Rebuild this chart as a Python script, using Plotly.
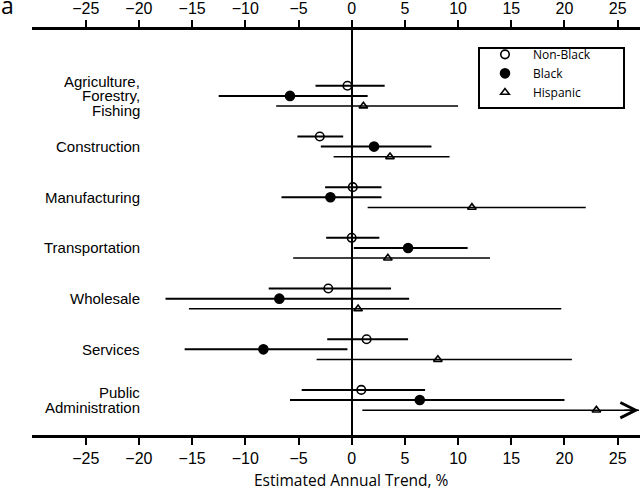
import plotly.graph_objects as go

# industries, top to bottom
categories = ["Agriculture,\nForestry,\nFishing", "Construction", "Manufacturing",
              "Transportation", "Wholesale", "Services", "Public\nAdministration"]

# estimated annual trend (%) with 95% CI
nonblack_est = [-0.4, -3.0, 0.1, 0.0, -2.2, 1.4, 0.9]
nonblack_lo = [-3.4, -5.1, -2.5, -2.4, -7.8, -2.3, -4.7]
nonblack_hi = [3.1, -0.8, 2.8, 2.6, 3.7, 5.3, 6.9]

black_est = [-5.8, 2.1, -2.0, 5.3, -6.8, -8.3, 6.4]
black_lo = [-12.5, -2.9, -6.6, 0.2, -17.5, -15.7, -5.8]
black_hi = [1.5, 7.5, 2.8, 10.9, 5.4, -0.4, 20.0]

hisp_est = [1.1, 3.6, 11.3, 3.4, 0.6, 8.1, 23.0]
hisp_lo = [-7.1, -1.7, 1.5, -5.5, -15.3, -3.3, 1.0]
hisp_hi = [10.0, 9.2, 22.0, 13.0, 19.7, 20.7, 27.0]  # last one runs off the axis

tick_vals = [-25, -20, -15, -10, -5, 0, 5, 10, 15, 20, 25]

ARIAL = "Liberation Sans"
MYRIAD = "Open Sans"

series = [
    ("Non-Black", nonblack_est, nonblack_lo, nonblack_hi, -0.2, "circle-open", 8.5, 2),
    ("Black", black_est, black_lo, black_hi, 0.0, "circle", 9, 2),
    ("Hispanic", hisp_est, hisp_lo, hisp_hi, 0.2, "triangle-up-open", 7.5, 1.5),
]

fig = go.Figure()
for name, est, lo, hi, off, sym, size, lw in series:
    fig.add_trace(go.Scatter(
        x=est,
        y=[i + off for i in range(len(categories))],
        mode="markers",
        name=name,
        marker=dict(symbol=sym, size=size, color="black", line=dict(color="black", width=1.6)),
        error_x=dict(type="data", symmetric=False,
                     array=[h - e for h, e in zip(hi, est)],
                     arrayminus=[e - l for e, l in zip(est, lo)],
                     width=0, thickness=lw, color="black"),
    ))

# empty trace so the top axis is drawn
fig.add_trace(go.Scatter(x=[], y=[], xaxis="x2", showlegend=False, hoverinfo="skip"))

axis_style = dict(
    range=[-30.05, 27.1],
    tickvals=tick_vals,
    showline=True, linecolor="black", linewidth=2.5,
    ticks="outside", ticklen=7, tickwidth=2, tickcolor="black",
    showgrid=False, automargin=False,
    tickfont=dict(family=ARIAL, size=16, color="black"),
)

fig.update_layout(
    width=640, height=490,
    margin=dict(l=32, r=0, t=30, b=55),
    paper_bgcolor="white", plot_bgcolor="white",
    xaxis=dict(**axis_style, side="bottom",
               zeroline=True, zerolinecolor="black", zerolinewidth=2),
    xaxis2=dict(**axis_style, side="top", overlaying="x", matches="x", zeroline=False),
    yaxis=dict(range=[6.69, -1.30], visible=False, automargin=False),
    showlegend=True,
    legend=dict(x=0.7319, y=0.893, xanchor="left", yanchor="middle",
                bgcolor="rgba(0,0,0,0)", borderwidth=0, itemwidth=46,
                font=dict(family=MYRIAD, size=12, color="black")),
)

# legend frame
fig.add_shape(type="rect", xref="paper", yref="paper",
              x0=0.7352, x1=0.9737, y0=0.8074, y1=0.9556,
              line=dict(color="black", width=2), fillcolor="rgba(0,0,0,0)")

# category labels, one annotation per line so the spacing stays tight
for i, label in enumerate(categories):
    lines = label.split("\n")
    for j, line in enumerate(lines):
        fig.add_annotation(x=0.1809, xref="paper", y=i, yref="y",
                           xanchor="right", yanchor="middle",
                           yshift=-(j - (len(lines) - 1) / 2) * 14.5,
                           text=line, showarrow=False,
                           font=dict(family=ARIAL, size=15, color="black"))

# arrow on the truncated Hispanic CI
fig.add_annotation(x=hisp_hi[-1], y=len(categories) - 1 + 0.2, xref="x", yref="y",
                   ax=hisp_hi[-1] - 1.5, ay=len(categories) - 1 + 0.2, axref="x", ayref="y",
                   text="", showarrow=True, arrowhead=5, arrowsize=2, arrowwidth=1.5,
                   arrowcolor="black", standoff=0)

fig.add_annotation(x=0, xref="x", y=-0.111, yref="paper", yanchor="middle",
                   text="Estimated Annual Trend, %", showarrow=False,
                   font=dict(family=MYRIAD, size=15.5, color="black"))

fig.add_annotation(x=-0.055, xref="paper", y=1.062, yref="paper",
                   xanchor="left", yanchor="middle",
                   text="a", showarrow=False,
                   font=dict(family=MYRIAD, size=23, color="black"))

# drop the default 8px body margin so the figure sits at the page corner
fig.write_html("out.html", config={"displayModeBar": False},
               post_script="document.body.style.margin = '0';")
